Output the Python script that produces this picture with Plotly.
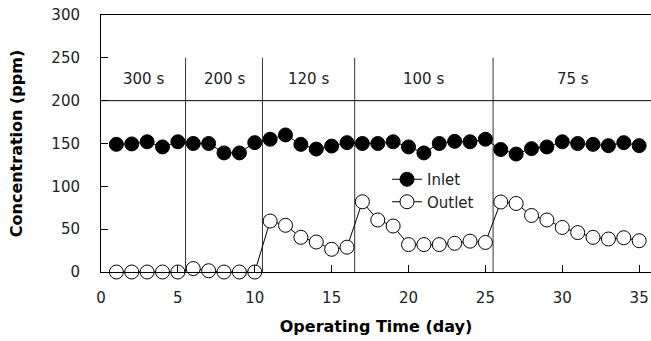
import plotly.graph_objects as go

days = list(range(1, 36))
inlet = [149, 149.5, 152, 146, 152, 150, 150, 139, 139, 151,
         155, 160, 149, 143.5, 147, 151, 150, 150, 152, 146,
         139, 150, 152.5, 152, 155, 143, 137.7, 144, 146, 152,
         150, 149, 147.5, 151, 147.5]
outlet = [0, 0, 0, 0, 0, 4, 1.5, 0, 0, 0,
          59.5, 54.5, 40.5, 35, 26.5, 29, 82, 60.7, 53.7, 32,
          32, 32, 33.5, 36, 34.5, 81.7, 80, 66, 60.7, 52,
          46, 40.5, 38.5, 40, 36.5]
boundaries = [5.5, 10.5, 16.5, 25.5]
period_labels = ["300 s", "200 s", "120 s", "100 s", "75 s"]
label_pos = [2.75, 8, 13.5, 21, 30.7]
x_ticks = [0, 5, 10, 15, 20, 25, 30, 35]
y_ticks = [0, 50, 100, 150, 200, 250, 300]

XMAX = 35.77
FONT = "DejaVu Sans"
INK = "#222222"

fig = go.Figure()
fig.add_trace(go.Scatter(
    x=days, y=inlet, name="Inlet", mode="lines+markers",
    line=dict(color="black", width=1),
    marker=dict(symbol="circle", size=14, color="black",
                line=dict(color="black", width=1)),
    cliponaxis=False,
))
fig.add_trace(go.Scatter(
    x=days, y=outlet, name="Outlet", mode="lines+markers",
    line=dict(color="black", width=1),
    marker=dict(symbol="circle", size=14, color="white",
                line=dict(color="black", width=1)),
    cliponaxis=False,
))

for b in boundaries:
    fig.add_shape(type="line", x0=b, x1=b, y0=0, y1=250, xref="x", yref="y",
                  line=dict(color="#333333", width=1), layer="below")
fig.add_shape(type="line", x0=0, x1=XMAX, y0=200, y1=200, xref="x", yref="y",
              line=dict(color="black", width=1), layer="below")

for lab, xp in zip(period_labels, label_pos):
    fig.add_annotation(x=xp, y=225, text=lab, showarrow=False,
                       font=dict(family=FONT, size=15, color=INK),
                       xref="x", yref="y")

fig.update_layout(
    width=651, height=341,
    margin=dict(l=101, r=0, t=15, b=69),
    paper_bgcolor="white", plot_bgcolor="white",
    font=dict(family=FONT, size=15, color=INK),
    showlegend=True,
    legend=dict(x=(387 - 101) / 550, y=(272 - 163) / 257,
                xanchor="left", yanchor="top",
                bgcolor="rgba(0,0,0,0)", borderwidth=0,
                font=dict(family=FONT, size=15, color=INK),
                tracegroupgap=0),
    xaxis=dict(range=[0, XMAX], tickvals=x_ticks, ticks="inside", ticklen=7,
               tickcolor="black", showline=True, linecolor="black", linewidth=1,
               mirror=True, showgrid=False, zeroline=False,
               ticklabelstandoff=12,
               tickfont=dict(family=FONT, size=15, color=INK),
               title=dict(text="<b>Operating Time (day)</b>",
                          font=dict(family=FONT, size=16, color="black"),
                          standoff=14)),
    yaxis=dict(range=[0, 300], tickvals=y_ticks, ticks="inside", ticklen=7,
               tickcolor="black", showline=True, linecolor="black", linewidth=1,
               showgrid=False, zeroline=False,
               ticklabelstandoff=17,
               tickfont=dict(family=FONT, size=15, color=INK),
               title=dict(text="<b>Concentration (ppm)</b>",
                          font=dict(family=FONT, size=16, color="black"),
                          standoff=24)),
)

fig.write_html("out.html")
